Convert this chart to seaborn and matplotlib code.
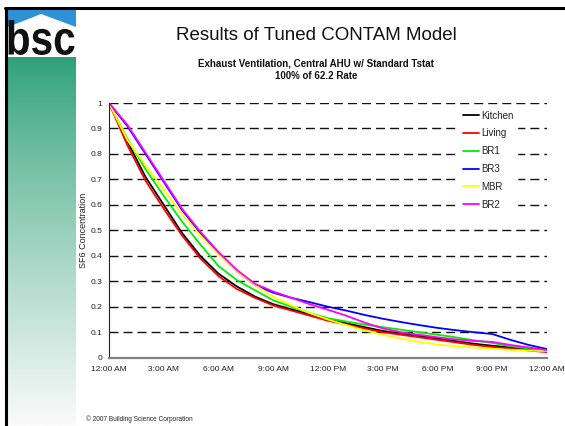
import numpy as np
import pandas as pd
import seaborn as sns
import matplotlib.pyplot as plt
from matplotlib.patches import Polygon, PathPatch
from matplotlib.lines import Line2D
from matplotlib.textpath import TextPath
from matplotlib.font_manager import FontProperties
from matplotlib.transforms import Affine2D

# ---------------- data ----------------
hours = list(range(25))
tick_hours = [0, 3, 6, 9, 12, 15, 18, 21, 24]
tick_labels = ["12:00 AM", "3:00 AM", "6:00 AM", "9:00 AM", "12:00 PM",
               "3:00 PM", "6:00 PM", "9:00 PM", "12:00 AM"]
rooms = ["Kitchen", "Living", "BR1", "BR3", "MBR", "BR2"]
room_colors = ["#000000", "#ff0000", "#00ee00", "#0000ff", "#ffff00", "#ff00ff"]

kitchen = [1.0, 0.85, 0.71, 0.60, 0.49, 0.40, 0.33, 0.28, 0.24, 0.21, 0.19, 0.17, 0.15,
           0.135, 0.12, 0.105, 0.095, 0.085, 0.075, 0.065, 0.055, 0.047, 0.040, 0.032, 0.025]
living = [1.0, 0.835, 0.695, 0.585, 0.48, 0.39, 0.32, 0.27, 0.235, 0.205, 0.185, 0.165, 0.145,
          0.13, 0.115, 0.10, 0.09, 0.08, 0.07, 0.06, 0.05, 0.042, 0.035, 0.028, 0.022]
br1 = [1.0, 0.86, 0.74, 0.635, 0.535, 0.445, 0.36, 0.305, 0.265, 0.225, 0.20, 0.175, 0.155,
       0.142, 0.13, 0.12, 0.11, 0.10, 0.09, 0.08, 0.068, 0.058, 0.045, 0.036, 0.03]
br3 = [1.0, 0.91, 0.80, 0.69, 0.58, 0.49, 0.41, 0.34, 0.285, 0.255, 0.235, 0.218, 0.20,
       0.185, 0.168, 0.153, 0.14, 0.128, 0.117, 0.108, 0.10, 0.093, 0.07, 0.05, 0.034]
mbr = [1.0, 0.855, 0.755, 0.66, 0.565, 0.48, 0.405, 0.34, 0.285, 0.24, 0.205, 0.175, 0.15,
       0.128, 0.107, 0.09, 0.075, 0.062, 0.052, 0.045, 0.04, 0.035, 0.031, 0.028, 0.026]
br2 = [1.0, 0.915, 0.805, 0.695, 0.585, 0.495, 0.415, 0.345, 0.29, 0.26, 0.235, 0.21, 0.188,
       0.165, 0.138, 0.115, 0.10, 0.09, 0.08, 0.072, 0.066, 0.062, 0.05, 0.04, 0.03]
series = [kitchen, living, br1, br3, mbr, br2]

df = pd.DataFrame({
    "hour": hours * len(rooms),
    "value": sum(series, []),
    "room": sum([[r] * len(hours) for r in rooms], []),
})

# ---------------- style ----------------
sns.set_theme(style="white")
plt.rcParams["font.family"] = ["Liberation Sans", "DejaVu Sans"]

W, H = 565, 426
fig = plt.figure(figsize=(W / 100, H / 100), dpi=100)
fig.patch.set_facecolor("white")

def fx(px):
    return px / W

def fy(py):
    return 1 - py / H

# ---------------- left decorative strip ----------------
strip = fig.add_axes([fx(8), 0, fx(76) - fx(8), (H - 57) / H])
top_c = np.array([44, 160, 120]) / 255
bot_c = np.array([250, 251, 250]) / 255
t = np.linspace(0, 1, 300) ** 0.85
grad = top_c[None, :] * (1 - t[:, None]) + bot_c[None, :] * t[:, None]
strip.imshow(grad[:, None, :], aspect="auto", extent=[0, 1, 0, 1])
strip.set_axis_off()

logo = fig.add_axes([fx(8), fy(57), fx(76) - fx(8), (57 - 10) / H])
logo.set_xlim(0, 68)
logo.set_ylim(47, 0)
logo.set_facecolor("#2f92d6")
logo.add_patch(Polygon([(0, 17), (33, 4), (68, 17), (68, 47), (0, 47)],
                       closed=True, color="white", lw=0))
logo.add_patch(Polygon([(0, 0), (68, 0), (68, 47), (0, 47)], closed=True,
                       facecolor="none", edgecolor="none"))
tp = TextPath((0, 0), "bsc", size=1,
              prop=FontProperties(family="Liberation Sans", weight="bold"))
bb = tp.get_extents()
tr = (Affine2D().translate(-bb.x0, -bb.y0)
      .scale(66 / bb.width, -35 / bb.height)
      .translate(0.5, 45))
logo.add_patch(PathPatch(tr.transform_path(tp), color="#111111", lw=0))
for s in logo.spines.values():
    s.set_visible(False)
logo.set_xticks([])
logo.set_yticks([])

# ---------------- border ----------------
fig.add_artist(Line2D([fx(5), 1], [fy(7.5), fy(7.5)], color="black", lw=2.2))
fig.add_artist(Line2D([fx(6), fx(6)], [fy(7.5), 0], color="black", lw=2.2))

# ---------------- chart ----------------
ax = fig.add_axes([fx(109), fy(357.7), fx(547) - fx(109), (357.7 - 103) / H])
ax.set_facecolor("white")
for y in np.arange(0.1, 1.01, 0.1):
    ax.axhline(y, color="#111111", lw=1.0, linestyle=(0, (6.5, 3.6)), zorder=0)

sns.lineplot(data=df, x="hour", y="value", hue="room", hue_order=rooms,
             palette=dict(zip(rooms, room_colors)), ax=ax, linewidth=1.3,
             legend=False, zorder=2)

ax.set_xlim(0, 24)
ax.set_ylim(0, 1)
ax.set_xticks(tick_hours)
ax.set_xticklabels(tick_labels)
ax.set_yticks(np.round(np.arange(0, 1.01, 0.1), 1))
ax.set_yticklabels(["0", "0.1", "0.2", "0.3", "0.4", "0.5", "0.6", "0.7", "0.8", "0.9", "1"])
ax.tick_params(axis="both", labelsize=6, colors="#222222", length=3, width=0.8,
               direction="out")
ax.tick_params(axis="x", pad=3, color="#808080")
ax.tick_params(axis="y", pad=2, color="#222222")
ax.set_xlabel("")
ax.set_ylabel("SF6 Concentration", fontsize=6.5, color="#222222")
ax.yaxis.set_label_coords(-0.048, 0.5)

for side in ["top", "right"]:
    ax.spines[side].set_visible(False)
ax.spines["left"].set_color("#222222")
ax.spines["left"].set_linewidth(0.8)
ax.spines["bottom"].set_color("#808080")
ax.spines["bottom"].set_linewidth(1.6)

handles = [Line2D([0], [0], color=c, lw=1.3) for c in room_colors]
leg = ax.legend(handles, rooms, loc="upper left", bbox_to_anchor=(0.80, 0.985),
                fontsize=7, frameon=True, handlelength=1.65, handletextpad=0.15,
                labelspacing=0.8, borderpad=0.4, borderaxespad=0.0)
leg.get_frame().set_facecolor("white")
leg.get_frame().set_edgecolor("white")
leg.get_frame().set_alpha(1.0)
leg.get_frame().set_boxstyle("square", pad=0.0)
for txt in leg.get_texts():
    txt.set_color("#222222")

# ---------------- titles ----------------
fig.text(fx(316), fy(35), "Results of Tuned CONTAM Model", ha="center", va="center",
         fontsize=13.5, color="#111111")
fig.text(fx(316), fy(69.5), "Exhaust Ventilation, Central AHU w/ Standard Tstat\n100% of 62.2 Rate",
         ha="center", va="center", fontsize=7, fontweight="bold", color="#111111",
         linespacing=1.3)
fig.text(fx(86), fy(419), "\u00a9 2007 Building Science Corporation", ha="left", va="center",
         fontsize=4.7, color="#222222")

fig.savefig("out.png", dpi=100, facecolor="white")
